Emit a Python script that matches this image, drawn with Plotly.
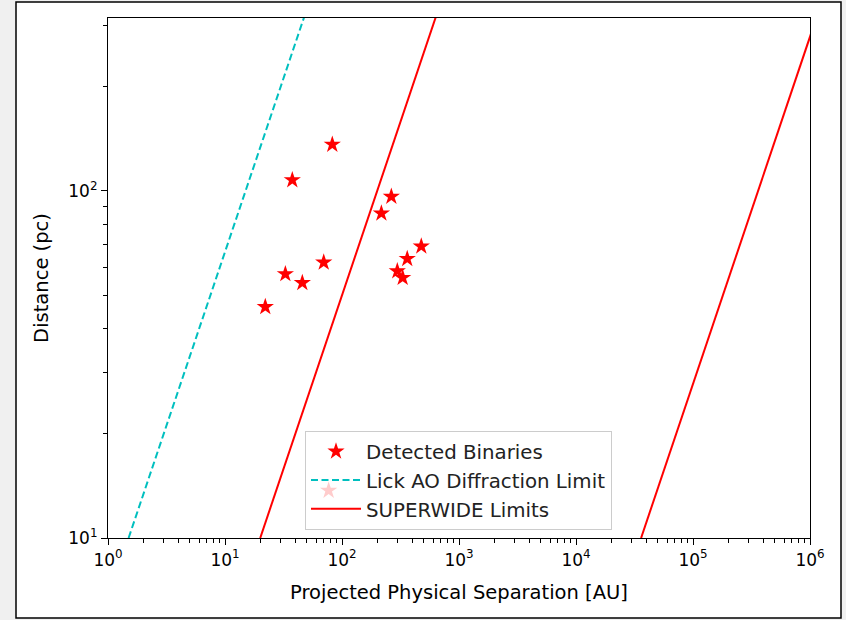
import plotly.graph_objects as go

# ---- data ----
sep_au = [22.1, 32.8, 45.8, 37.6, 82.6, 69.8, 217, 264, 297, 330, 361, 476, 76.9]
dist_pc = [46.3, 57.6, 54.3, 107.4, 135.9, 62.2, 86.1, 96.2, 58.7, 56.2, 63.7, 69.2, 13.7]

limit_dist = [10, 1000]          # distances spanned by the limit lines (pc)
lick_ao_arcsec = 0.15            # Lick AO diffraction limit
superwide_arcsec = [2, 3600]     # SUPERWIDE inner / outer limits

x_ticks = [1, 10, 100, 1e3, 1e4, 1e5, 1e6]
x_ticktext = ["10<sup>0</sup>", "10<sup>1</sup>", "10<sup>2</sup>", "10<sup>3</sup>",
              "10<sup>4</sup>", "10<sup>5</sup>", "10<sup>6</sup>"]
y_ticks = [10, 100]
y_ticktext = ["10<sup>1</sup>", "10<sup>2</sup>"]

W, H = 846, 620
L, R, T, B = 108, 36, 18, 82
pw, ph = W - L - R, H - T - B


def px(x):
    return (x - L) / pw


def py(y):
    return (H - B - y) / ph


fig = go.Figure()
fig.add_trace(go.Scatter(
    x=sep_au, y=dist_pc, mode="markers", name="Detected Binaries",
    marker=dict(symbol="star", color="red", size=13, line=dict(width=0)),
))
fig.add_trace(go.Scatter(
    x=[d * lick_ao_arcsec for d in limit_dist], y=limit_dist, mode="lines",
    name="Lick AO Diffraction Limit",
    line=dict(color="#00bfbf", width=2, dash="7px,3.5px"),
))
for i, th in enumerate(superwide_arcsec):
    fig.add_trace(go.Scatter(
        x=[d * th for d in limit_dist], y=limit_dist, mode="lines",
        name="SUPERWIDE Limits", showlegend=(i == 0),
        line=dict(color="red", width=2),
    ))

minor_x = [m * 10 ** k for k in range(0, 6) for m in range(2, 10)]
minor_y = [m * 10 for m in range(2, 10)] + [200, 300]

axis_common = dict(
    type="log", showgrid=False, zeroline=False, showline=True, mirror=True,
    linecolor="black", linewidth=1.2, ticks="outside", ticklen=6, tickwidth=1.2,
    tickcolor="black", tickfont=dict(family="DejaVu Sans", size=17, color="black"),
)

fig.update_xaxes(
    **axis_common, range=[0, 6], tickvals=x_ticks, ticktext=x_ticktext,
    minor=dict(tickvals=minor_x, ticks="outside", ticklen=3.5, tickwidth=1, tickcolor="black"),
    title=dict(text="Projected Physical Separation [AU]",
               font=dict(family="DejaVu Sans", size=19.5, color="black"), standoff=16),
)
fig.update_yaxes(
    **axis_common, range=[1, 2.4977], tickvals=y_ticks, ticktext=y_ticktext,
    minor=dict(tickvals=minor_y, ticks="outside", ticklen=3.5, tickwidth=1, tickcolor="black"),
    title=dict(text="Distance (pc)",
               font=dict(family="DejaVu Sans", size=19.5, color="black"), standoff=14),
)

fig.update_layout(
    width=W, height=H,
    margin=dict(l=L, r=R, t=T, b=B, pad=0),
    paper_bgcolor="#f0f0f0", plot_bgcolor="white",
    font=dict(family="DejaVu Sans", color="black"),
    legend=dict(
        x=px(305), y=py(431), xanchor="left", yanchor="top",
        bgcolor="rgba(255,255,255,0.8)", bordercolor="#cccccc", borderwidth=1,
        font=dict(family="DejaVu Sans", size=19.8, color="#222222"),
        itemwidth=50,
    ),
    shapes=[
        dict(type="rect", xref="paper", yref="paper", layer="below",
             x0=px(16), x1=px(841), y0=py(618), y1=py(2),
             fillcolor="white", line=dict(color="black", width=1.5)),
    ],
)

fig.write_html("out.html")
